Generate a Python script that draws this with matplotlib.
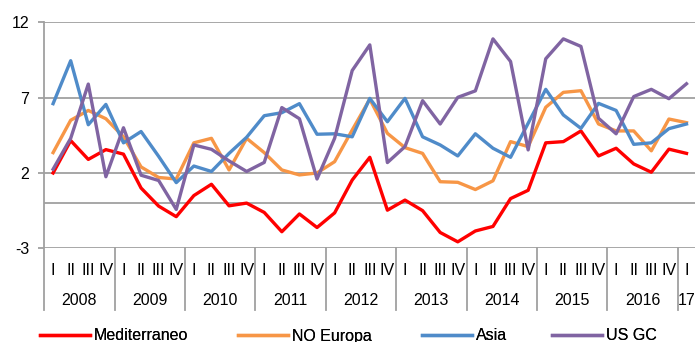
import numpy as np
import matplotlib.pyplot as plt
from matplotlib.transforms import blended_transform_factory
from matplotlib.lines import Line2D

# quarterly series, 2008 Q1 .. 2017 Q1
quarters = ['I', 'II', 'III', 'IV'] * 9 + ['I']
years = ['2008', '2009', '2010', '2011', '2012', '2013', '2014', '2015', '2016', '17']

mediterraneo = [2.0, 4.15, 2.9, 3.55, 3.25, 1.0, -0.2, -0.9, 0.5, 1.25,
                -0.18, 0.0, -0.62, -1.9, -0.72, -1.62, -0.65, 1.53, 3.04, -0.47,
                0.2, -0.5, -1.95, -2.57, -1.85, -1.55, 0.3, 0.85, 4.0, 4.08,
                4.79, 3.13, 3.64, 2.6, 2.05, 3.58, 3.3]
no_europa = [3.35, 5.5, 6.15, 5.6, 4.4, 2.4, 1.7, 1.6, 4.0, 4.3,
             2.2, 4.3, 3.35, 2.2, 1.87, 2.0, 2.75, 4.85, 6.9, 4.63,
             3.68, 3.3, 1.42, 1.38, 0.9, 1.48, 4.08, 3.75, 6.36, 7.35,
             7.46, 5.25, 4.79, 4.79, 3.47, 5.58, 5.34]
asia = [6.6, 9.45, 5.2, 6.55, 4.0, 4.75, 3.1, 1.36, 2.46, 2.1,
        3.3, 4.37, 5.8, 6.0, 6.6, 4.57, 4.6, 4.4, 6.95, 5.4,
        6.95, 4.4, 3.86, 3.13, 4.6, 3.64, 3.04, 5.3, 7.55, 5.85,
        4.96, 6.62, 6.15, 3.9, 4.0, 4.94, 5.25]
us_gc = [2.25, 4.3, 7.9, 1.75, 5.0, 1.85, 1.5, -0.42, 3.86, 3.57,
         2.8, 2.1, 2.7, 6.34, 5.6, 1.6, 4.3, 8.8, 10.5, 2.69,
         3.75, 6.8, 5.25, 7.02, 7.45, 10.9, 9.4, 3.53, 9.58, 10.9,
         10.4, 5.63, 4.6, 7.07, 7.55, 6.93, 7.92]

plt.rcParams['font.family'] = ['Liberation Sans', 'DejaVu Sans']
plt.rcParams['axes.unicode_minus'] = False
grey = '#a0a0a0'
fs = 11.5

fig = plt.figure(figsize=(6.96, 3.42), dpi=100)
ax = fig.add_axes([44.3 / 696, 1 - 248.3 / 342, 651 / 696, 226 / 342])

x = np.arange(len(quarters))
series = [
    (mediterraneo, '#ff0000', 'Mediterraneo'),
    (no_europa, '#f79646', 'NO Europa'),
    (asia, '#4f8bc9', 'Asia'),
    (us_gc, '#8064a2', 'US GC'),
]
handles = []
for vals, color, label in series:
    h, = ax.plot(x, vals, color=color, lw=2.4, label=label, zorder=3)
    handles.append(h)

ax.set_xlim(-0.5, len(quarters) - 0.5)
ax.set_ylim(-3, 12)
ax.set_yticks([-3, 2, 7, 12])
ax.set_xticks([])
for y in [-3, 0, 2, 7, 12]:
    ax.axhline(y, color=grey, lw=1.3, zorder=1)

for s in ['top', 'right', 'bottom', 'left']:
    ax.spines[s].set_visible(False)
ax.tick_params(axis='y', length=4, width=1.3, color=grey, pad=7, labelsize=fs)

# category axis below the plot: quarter row, year row and separators
trans = blended_transform_factory(ax.transData, ax.transAxes)
ax.add_line(Line2D([-0.5, -0.5], [1, -0.274], transform=trans, color=grey,
                   lw=1.3, clip_on=False))
for k in range(1, 10):
    xs = -0.5 + 4 * k
    ax.add_line(Line2D([xs, xs], [0, -0.274], transform=trans, color=grey,
                       lw=1.3, clip_on=False))
for i, q in enumerate(quarters):
    ax.text(i, -0.097, q, transform=trans, ha='center', va='center', fontsize=fs)
for k, yr in enumerate(years):
    xc = 1.5 + 4 * k if k < 9 else 36
    ax.text(xc, -0.229, yr, transform=trans, ha='center', va='center', fontsize=fs)

# one legend box per entry so each sits at its own x position
legend_x = [40, 238, 422, 552]
for h, lx in zip(handles, legend_x):
    leg = fig.legend(handles=[h], loc='center left',
                     bbox_to_anchor=(lx / 696, 1 - 336 / 342), frameon=False,
                     fontsize=fs, handlelength=3.1, handletextpad=0.25,
                     borderaxespad=0, borderpad=0)
    fig.add_artist(leg)

fig.savefig('out.png', dpi=100)
